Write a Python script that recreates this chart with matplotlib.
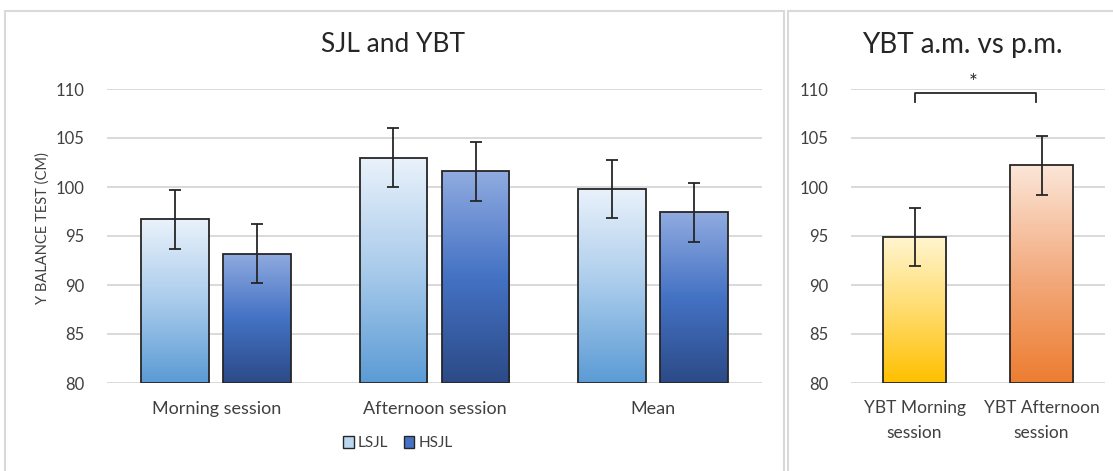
import numpy as np
import matplotlib
matplotlib.use("Agg")
import matplotlib.pyplot as plt
from matplotlib.colors import LinearSegmentedColormap
from matplotlib.patches import Patch, Rectangle

plt.rcParams['font.family'] = ['Lato', 'DejaVu Sans']

# left panel: jump groups per session
sessions = ["Morning session", "Afternoon session", "Mean"]
groups = ["LSJL", "HSJL"]
lsjl_vals = [96.7, 103.0, 99.8]
hsjl_vals = [93.2, 101.6, 97.4]
lsjl_err = [3.0, 3.0, 3.0]
hsjl_err = [3.0, 3.0, 3.0]

# right panel: YBT morning vs afternoon
ybt_labels = ["YBT Morning\nsession", "YBT Afternoon\nsession"]
ybt_vals = [94.9, 102.2]
ybt_err = [3.0, 3.0]

yticks = [80, 85, 90, 95, 100, 105, 110]

cmaps = {
    "LSJL": LinearSegmentedColormap.from_list("lsjl", ["#5b9bd5", "#a9cbeb", "#eaf2fb"]),
    "HSJL": LinearSegmentedColormap.from_list("hsjl", ["#2c4a87", "#4472c4", "#90abe0"]),
    "am": LinearSegmentedColormap.from_list("am", ["#ffc000", "#ffdc6e", "#fff5cf"]),
    "pm": LinearSegmentedColormap.from_list("pm", ["#ed7d31", "#f3ab7f", "#fbe6d8"]),
}
grad = np.linspace(0, 1, 256).reshape(-1, 1)


def gradient_bars(ax, bars, cmap):
    for b in bars:
        x0, y0 = b.get_x(), b.get_y()
        w, h = b.get_width(), b.get_height()
        im = ax.imshow(grad, cmap=cmap, origin="lower", aspect="auto",
                       extent=[x0, x0 + w, y0, y0 + h], zorder=2)
        im.set_clip_path(b)
        b.set_facecolor("none")
        b.set_zorder(3)


def style_axes(ax):
    ax.set_ylim(80, 110)
    ax.set_yticks(yticks)
    ax.yaxis.grid(True, color="#d9d9d9", lw=1.4)
    ax.set_axisbelow(True)
    for s in ax.spines.values():
        s.set_visible(False)
    ax.tick_params(length=0, colors="#404040")
    ax.tick_params(axis="y", pad=16, labelsize=12)


fig = plt.figure(figsize=(11.13, 4.71), dpi=100)

# panel frames
fig.patches.append(Rectangle((5 / 1113, -0.01), 779 / 1113, 1 - 11 / 471 + 0.01,
                             transform=fig.transFigure, fill=False,
                             edgecolor="#d9d9d9", lw=1.5))
fig.patches.append(Rectangle((788 / 1113, -0.01), 0.3, 1 - 11 / 471 + 0.01,
                             transform=fig.transFigure, fill=False,
                             edgecolor="#d9d9d9", lw=1.5))

ax1 = fig.add_axes([107 / 1113, 1 - 383 / 471, 655 / 1113, 294 / 471])
ax2 = fig.add_axes([851 / 1113, 1 - 383 / 471, 254 / 1113, 294 / 471])

x = np.arange(len(sessions))
bw = 0.31
off = 0.188
ekw = dict(ecolor="#262626", elinewidth=1.3, capsize=4, capthick=1.3)
b1 = ax1.bar(x - off, np.array(lsjl_vals) - 80, bw, bottom=80, yerr=lsjl_err,
             edgecolor="#262626", lw=1.3, error_kw=ekw)
b2 = ax1.bar(x + off, np.array(hsjl_vals) - 80, bw, bottom=80, yerr=hsjl_err,
             edgecolor="#262626", lw=1.3, error_kw=ekw)
gradient_bars(ax1, b1, cmaps["LSJL"])
gradient_bars(ax1, b2, cmaps["HSJL"])
for c in b1.errorbar.lines[1] + b1.errorbar.lines[2]:
    c.set_zorder(4)
for c in b2.errorbar.lines[1] + b2.errorbar.lines[2]:
    c.set_zorder(4)
ax1.set_xlim(-0.5, len(sessions) - 0.5)
ax1.set_xticks(x)
ax1.set_xticklabels(sessions)
style_axes(ax1)
ax1.tick_params(axis="x", pad=13, labelsize=13)
ax1.set_ylabel("Y BALANCE TEST (CM)", fontsize=10.5, color="#404040")
ax1.yaxis.set_label_coords(-0.087, 0.527)

leg_handles = [Patch(facecolor="#bcd6ef", edgecolor="#262626", lw=1),
               Patch(facecolor="#4472c4", edgecolor="#262626", lw=1)]
fig.legend(leg_handles, groups, loc="center", bbox_to_anchor=(398 / 1113, 1 - 443 / 471),
           ncol=2, frameon=False, fontsize=11, handlelength=0.7, handleheight=0.9,
           handletextpad=0.25, columnspacing=1.0, labelcolor="#404040")

xr = np.arange(len(ybt_labels))
b3 = ax2.bar(xr, np.array(ybt_vals) - 80, 0.5, bottom=80, yerr=ybt_err,
             edgecolor="#262626", lw=1.3, error_kw=ekw)
gradient_bars(ax2, [b3[0]], cmaps["am"])
gradient_bars(ax2, [b3[1]], cmaps["pm"])
for c in b3.errorbar.lines[1] + b3.errorbar.lines[2]:
    c.set_zorder(4)
ax2.set_xlim(-0.5, len(ybt_labels) - 0.5)
ax2.set_xticks(xr)
ax2.set_xticklabels(ybt_labels, linespacing=1.75)
style_axes(ax2)
ax2.tick_params(axis="x", pad=12, labelsize=12.5)

# significance bracket
ax2.plot([0, 0, 0.96, 0.96], [108.7, 109.6, 109.6, 108.7], color="#262626",
         lw=1.3, clip_on=False, zorder=5)
ax2.text(0.46, 109.6, "*", ha="center", va="bottom", fontsize=15, color="#262626")

fig.text(393 / 1113, 1 - 45 / 471, "SJL and YBT", ha="center", va="center",
         fontsize=19, color="#262626")
fig.text(962 / 1113, 1 - 45 / 471, "YBT a.m. vs p.m.", ha="center", va="center",
         fontsize=20, color="#262626")

fig.savefig("out.png", dpi=100)
